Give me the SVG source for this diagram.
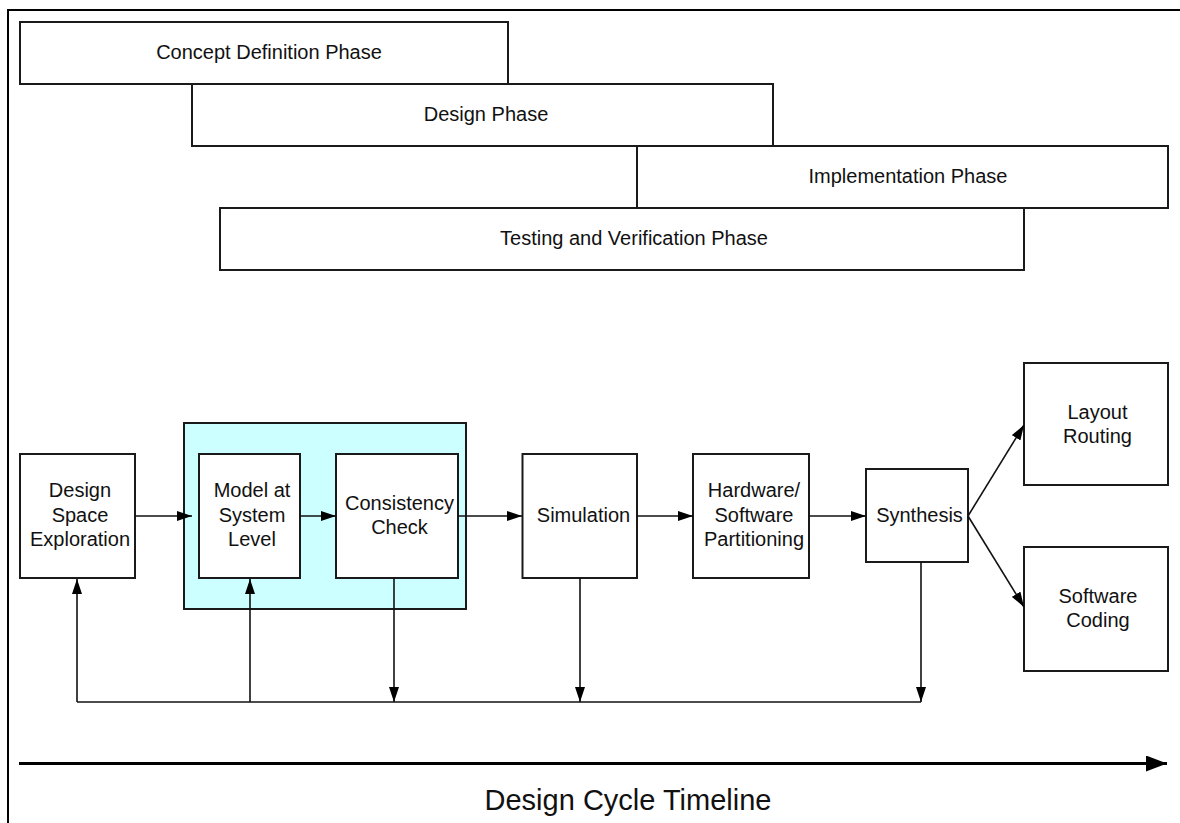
<svg xmlns="http://www.w3.org/2000/svg" width="1180" height="823" viewBox="0 0 1180 823">
  <defs>
    <marker id="arrow" markerUnits="userSpaceOnUse" markerWidth="15" markerHeight="10" refX="15" refY="5" orient="auto">
      <path d="M0,0 L15,5 L0,10 Z" fill="#000"/>
    </marker>
    <marker id="arrow-big" markerUnits="userSpaceOnUse" markerWidth="21" markerHeight="16" refX="21" refY="8" orient="auto">
      <path d="M0,0 L21,8 L0,16 Z" fill="#000"/>
    </marker>
    <style>
      .box { fill: #fff; stroke: #1a1a1a; stroke-width: 2; }
      .group-box { fill: #ccffff; stroke: #1a1a1a; stroke-width: 2; }
      .lbl { font-family: "Liberation Sans", Arial, sans-serif; font-size: 20px; fill: #111; text-anchor: middle; }
      .title { font-family: "Liberation Sans", Arial, sans-serif; font-size: 29px; fill: #111; text-anchor: middle; }
      .wire { fill: none; stroke: #111; stroke-width: 1.6; }
      .arrowed { marker-end: url(#arrow); }
    </style>
  </defs>

  <rect width="1180" height="823" fill="#fff"/>

  <!-- page frame -->
  <path d="M8,823 V10 H1180" fill="none" stroke="#000" stroke-width="2"/>

  <!-- phase bars -->
  <g id="phase-concept">
    <rect class="box" x="20" y="22" width="488" height="62"/>
    <text class="lbl" x="269" y="59">Concept Definition Phase</text>
  </g>
  <g id="phase-design">
    <rect class="box" x="192" y="84" width="581" height="62"/>
    <text class="lbl" x="486" y="121">Design Phase</text>
  </g>
  <g id="phase-implementation">
    <rect class="box" x="637" y="146" width="531" height="62"/>
    <text class="lbl" x="908" y="183">Implementation Phase</text>
  </g>
  <g id="phase-testing">
    <rect class="box" x="220" y="208" width="804" height="62"/>
    <text class="lbl" x="634" y="245">Testing and Verification Phase</text>
  </g>

  <!-- modelling group -->
  <g id="modeling-group">
    <rect class="group-box" x="184" y="423" width="282" height="186"/>
  </g>

  <g id="design-space-exploration">
    <rect class="box" x="20" y="454" width="115" height="124"/>
    <text class="lbl" x="80" y="497">Design</text>
    <text class="lbl" x="80" y="521.5">Space</text>
    <text class="lbl" x="80" y="546">Exploration</text>
  </g>
  <g id="model-system-level">
    <rect class="box" x="199" y="454" width="101" height="124"/>
    <text class="lbl" x="252" y="497">Model at</text>
    <text class="lbl" x="252" y="521.5">System</text>
    <text class="lbl" x="252" y="546">Level</text>
  </g>
  <g id="consistency-check">
    <rect class="box" x="336" y="454" width="122" height="124"/>
    <text class="lbl" x="399.5" y="509.5">Consistency</text>
    <text class="lbl" x="399.5" y="534">Check</text>
  </g>
  <g id="simulation">
    <rect class="box" x="522.5" y="454" width="114.5" height="124"/>
    <text class="lbl" x="583.5" y="521.5">Simulation</text>
  </g>
  <g id="hw-sw-partitioning">
    <rect class="box" x="693" y="454" width="116" height="124"/>
    <text class="lbl" x="754" y="497">Hardware/</text>
    <text class="lbl" x="754" y="521.5">Software</text>
    <text class="lbl" x="754" y="546">Partitioning</text>
  </g>
  <g id="synthesis">
    <rect class="box" x="866" y="469" width="102" height="93"/>
    <text class="lbl" x="919.5" y="521.5">Synthesis</text>
  </g>
  <g id="layout-routing">
    <rect class="box" x="1024" y="363" width="144" height="122"/>
    <text class="lbl" x="1097.5" y="418.5">Layout</text>
    <text class="lbl" x="1097.5" y="442.5">Routing</text>
  </g>
  <g id="software-coding">
    <rect class="box" x="1024" y="547" width="144" height="124"/>
    <text class="lbl" x="1098" y="602.5">Software</text>
    <text class="lbl" x="1098" y="626.5">Coding</text>
  </g>

  <!-- connectors -->
  <g id="connectors">
    <line class="wire arrowed" x1="135" y1="516" x2="192" y2="516"/>
    <line class="wire arrowed" x1="300" y1="516" x2="336" y2="516"/>
    <line class="wire arrowed" x1="458" y1="516" x2="522" y2="516"/>
    <line class="wire arrowed" x1="637" y1="516" x2="693" y2="516"/>
    <line class="wire arrowed" x1="809" y1="516" x2="866" y2="516"/>
    <line class="wire arrowed" x1="968" y1="516" x2="1024" y2="425"/>
    <line class="wire arrowed" x1="968" y1="516" x2="1024" y2="607"/>

    <!-- feedback bus -->
    <line class="wire" x1="77" y1="702" x2="921" y2="702"/>
    <line class="wire arrowed" x1="77" y1="702" x2="77" y2="579"/>
    <line class="wire arrowed" x1="250" y1="702" x2="250" y2="579"/>
    <line class="wire arrowed" x1="394" y1="578" x2="394" y2="702"/>
    <line class="wire arrowed" x1="580" y1="578" x2="580" y2="702"/>
    <line class="wire arrowed" x1="921" y1="562" x2="921" y2="702"/>
  </g>

  <!-- timeline axis -->
  <g id="timeline">
    <line x1="19" y1="763.5" x2="1167" y2="763.5" stroke="#000" stroke-width="3" marker-end="url(#arrow-big)"/>
    <text class="title" x="628" y="810">Design Cycle Timeline</text>
  </g>
</svg>
